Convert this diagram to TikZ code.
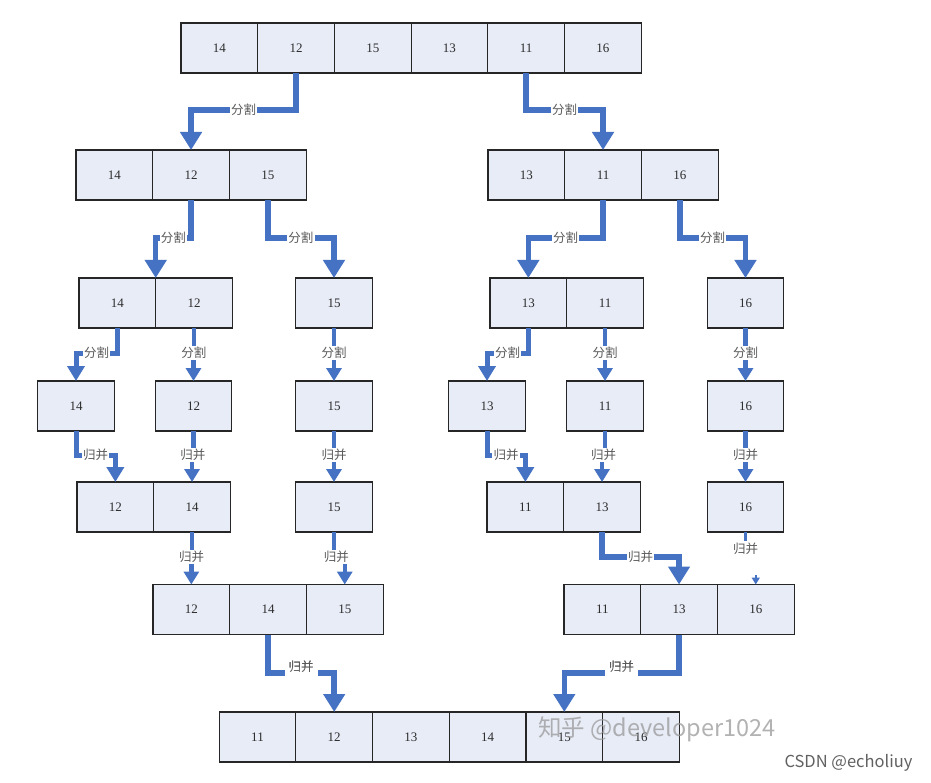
\documentclass[tikz,border=0pt]{standalone}
\usepackage{fontspec}
\setmainfont{Liberation Serif}
\newfontfamily\cjk{Noto Sans CJK SC}
\usetikzlibrary{arrows.meta}
\definecolor{cellfill}{RGB}{232,236,247}
\definecolor{arrblue}{RGB}{70,114,196}
\definecolor{numtext}{RGB}{45,45,45}
\begin{document}
\begin{tikzpicture}[x=1pt,y=-1pt,
 cell/.style={draw=black!85, line width=1.1pt, fill=cellfill, minimum width=76.7pt, minimum height=50pt, inner sep=0pt, outer sep=0pt, font=\fontsize{13}{13}\selectfont, text=numtext},
 big/.style={draw=arrblue, line width=5.5pt, -{Triangle[width=21pt,length=18pt]}},
 mid/.style={draw=arrblue, line width=5pt, -{Triangle[width=17pt,length=15pt]}},
 small/.style={draw=arrblue, line width=4.5pt, -{Triangle[width=15pt,length=13pt]}},
 lab/.style={fill=white, inner sep=1.2pt, text=black!65, font=\cjk\fontsize{12.5}{12.5}\selectfont},
]
\useasboundingbox (0,0) rectangle (931,783);
\fill[white] (0,0) rectangle (931,783);

% row 1
\node[cell] (a1) at (219.35,48) {14};
\node[cell] (a2) at (296.05,48) {12};
\node[cell] (a3) at (372.75,48) {15};
\node[cell] (a4) at (449.45,48) {13};
\node[cell] (a5) at (526.15,48) {11};
\node[cell] (a6) at (602.85,48) {16};
% row 2
\node[cell] (b1) at (114.35,175) {14};
\node[cell] (b2) at (191.05,175) {12};
\node[cell] (b3) at (267.75,175) {15};
\node[cell] (b4) at (526.35,175) {13};
\node[cell] (b5) at (603.05,175) {11};
\node[cell] (b6) at (679.75,175) {16};
% row 3
\node[cell] (c1) at (117.35,303) {14};
\node[cell] (c2) at (194.05,303) {12};
\node[cell] (c3) at (334,303) {15};
\node[cell] (c4) at (528.35,303) {13};
\node[cell] (c5) at (605.05,303) {11};
\node[cell] (c6) at (745.5,303) {16};
% row 4
\node[cell] (d1) at (76,406) {14};
\node[cell] (d2) at (193.5,406) {12};
\node[cell] (d3) at (334,406) {15};
\node[cell] (d4) at (487,406) {13};
\node[cell] (d5) at (605,406) {11};
\node[cell] (d6) at (745.5,406) {16};
% row 5
\node[cell] (e1) at (115.35,507) {12};
\node[cell] (e2) at (192.05,507) {14};
\node[cell] (e3) at (334,507) {15};
\node[cell] (e4) at (525.35,507) {11};
\node[cell] (e5) at (602.05,507) {13};
\node[cell] (e6) at (745.5,507) {16};
% row 6
\node[cell] (f1) at (191.35,609.5) {12};
\node[cell] (f2) at (268.05,609.5) {14};
\node[cell] (f3) at (344.75,609.5) {15};
\node[cell] (f4) at (602.35,609.5) {11};
\node[cell] (f5) at (679.05,609.5) {13};
\node[cell] (f6) at (755.75,609.5) {16};
% row 7
\node[cell] (g1) at (257.5,737) {11};
\node[cell] (g2) at (334.2,737) {12};
\node[cell] (g3) at (410.9,737) {13};
\node[cell] (g4) at (487.6,737) {14};
\node[cell] (g5) at (564.3,737) {15};
\node[cell] (g6) at (641.0,737) {16};

% row 1 -> row 2
\draw[big] (a2.south) -- (a2.south |- 0,110) -| node[lab,pos=0.25] (l1) {分割} (b2.north);
\draw[big] (a5.south) -- (a5.south |- 0,110) -| node[lab,pos=0.25] (l2) {分割} (b5.north);
% row 2 -> row 3
\draw[big] (b2.south) -- (b2.south |- 0,238) -| node[lab,pos=0.25] (l3) {分割} (c1.north east);
\draw[big] (b3.south) -- (b3.south |- 0,238) -| node[lab,pos=0.25] (l4) {分割} (c3.north);
\draw[big] (b5.south) -- (b5.south |- 0,238) -| node[lab,pos=0.25] (l5) {分割} (c4.north);
\draw[big] (b6.south) -- (b6.south |- 0,238) -| node[lab,pos=0.25] (l6) {分割} (c6.north);
% row 3 -> row 4
\draw[mid] (c1.south) -- (c1.south |- 0,353) -| node[lab,pos=0.25] (l7) {分割} (d1.north);
\draw[small] (c2.south) -- (c2.south |- 0,353) -| node[lab,pos=0.25] (l8) {分割} (d2.north);
\draw[small] (c3.south) -- (c3.south |- 0,353) -| node[lab,pos=0.25] (l9) {分割} (d3.north);
\draw[mid] (c4.south) -- (c4.south |- 0,353) -| node[lab,pos=0.25] (l10) {分割} (d4.north);
\draw[small] (c5.south) -- (c5.south |- 0,353) -| node[lab,pos=0.25] (l11) {分割} (d5.north);
\draw[small] (c6.south) -- (c6.south |- 0,353) -| node[lab,pos=0.25] (l12) {分割} (d6.north);
% row 4 -> row 5
\draw[mid] (d1.south) -- (d1.south |- 0,455) -| node[lab,pos=0.25] (m1) {归并} (e1.north);
\draw[small] (d2.south) -- (d2.south |- 0,455) -| node[lab,pos=0.25] (m2) {归并} (e2.north);
\draw[small] (d3.south) -- (d3.south |- 0,455) -| node[lab,pos=0.25] (m3) {归并} (e3.north);
\draw[mid] (d4.south) -- (d4.south |- 0,455) -| node[lab,pos=0.25] (m4) {归并} (e4.north);
\draw[small] (d5.south) -- (d5.south |- 0,455) -| node[lab,pos=0.25] (m5) {归并} (e5.north);
\draw[small] (d6.south) -- (d6.south |- 0,455) -| node[lab,pos=0.25] (m6) {归并} (e6.north);
% row 5 -> row 6
\draw[small] (e2.south) -- (e2.south |- 0,557) -| node[lab,pos=0.25] (m7) {归并} (f1.north);
\draw[small] (e3.south) -- (e3.south |- 0,557) -| node[lab,pos=0.25,xshift=-3pt] (m8) {归并} (f3.north);
\draw[big] (e5.south) -- (e5.south |- 0,557) -| node[lab,pos=0.25] (m9) {归并} (f5.north);
\coordinate (s16) at (745.5,541);
\draw[draw=arrblue, line width=3.5pt] (e6.south) -- (s16);
\node[lab] (m10) at (745.5,549) {归并};
\coordinate (t16) at (755.75,575);
\draw[draw=arrblue, line width=1.5pt, -{Triangle[width=8pt,length=7pt]}] (t16) -- (f6.north);
% row 6 -> row 7
\draw[big] (f2.south) -- (f2.south |- 0,673) -| node[lab,pos=0.25,yshift=6pt,fill=none] (m11) {归并} (g2.north);
\draw[big] (f5.south) -- (f5.south |- 0,673) -| node[lab,pos=0.25,yshift=6pt,fill=none] (m12) {归并} (g5.north);
\fill[white] (m11.west |- 0,667) rectangle (m11.east |- 0,679);
\fill[white] (m12.west |- 0,667) rectangle (m12.east |- 0,679);
\node[lab,fill=none] (m11b) at (m11) {归并};
\node[lab,fill=none] (m12b) at (m12) {归并};

% watermarks
\node[text=black!40, opacity=0.75, font=\cjk\fontsize{23.5}{23.5}\selectfont] (wm) at (657,729) {知乎 @developer1024};
\node[anchor=east, text=black!62, font=\cjk\fontsize{16.5}{16.5}\selectfont] (csdn) at (916,763) {CSDN @echoliuy};
\end{tikzpicture}
\end{document}
